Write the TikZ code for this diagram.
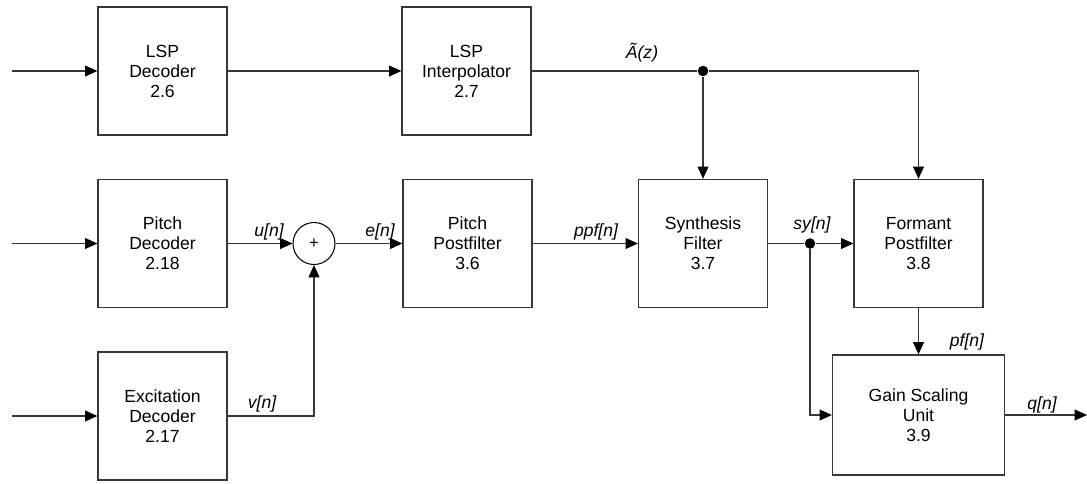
\documentclass[tikz,border=0pt]{standalone}
\usepackage{fontspec}
\setmainfont{Liberation Sans}
\usetikzlibrary{arrows.meta}
\definecolor{wire}{RGB}{55,55,55}

\begin{document}
\begin{tikzpicture}[
  block/.style={draw=wire, line width=0.75pt, minimum width=2.58cm, minimum height=2.56cm, align=center, inner sep=0pt, font=\fontsize{10}{11.4}\selectfont},
  sig/.style={draw=wire, line width=0.6pt, -{Triangle[length=7pt,width=6.2pt,color=black]}},
  wireline/.style={draw=wire, line width=0.6pt},
  lbl/.style={inner sep=0pt, font=\fontsize{10}{11}\selectfont\itshape},
  junction/.style={circle, fill=black, inner sep=0pt, minimum size=6pt}
]
\useasboundingbox (0,0) rectangle (21.74,-9.66);
% blocks
\node[block] (lspdec) at (3.25,-1.42) {LSP\\Decoder\\2.6};
\node[block] (lspint) at (9.33,-1.42) {LSP\\Interpolator\\2.7};
\node[block] (pitchdec) at (3.25,-4.87) {Pitch\\Decoder\\2.18};
\node[block] (excdec) at (3.25,-8.32) {Excitation\\Decoder\\2.17};
\node[block] (pitchpf) at (9.35,-4.87) {Pitch\\Postfilter\\3.6};
\node[block] (synth) at (14.06,-4.87) {Synthesis\\Filter\\3.7};
\node[block] (formant) at (18.37,-4.87) {Formant\\Postfilter\\3.8};
\node[block, minimum width=3.44cm, minimum height=2.4cm] (gain) at (18.37,-8.3) {Gain Scaling\\Unit\\3.9};
\node[draw=black, line width=0.6pt, circle, minimum size=0.84cm, inner sep=0pt, font=\fontsize{9.5}{10}\selectfont] (sum) at (6.28,-4.87) {+};
% inputs and output
\coordinate (in1) at (0.24,-1.42);
\coordinate (in2) at (0.24,-4.87);
\coordinate (in3) at (0.24,-8.32);
\coordinate (qout) at (21.74,-8.3);
\node[junction] (jA) at (14.06,-1.42) {};
\node[junction] (jsy) at (16.2,-4.87) {};
\draw[sig] (in1) -- (lspdec.west);
\draw[sig] (in2) -- (pitchdec.west);
\draw[sig] (in3) -- (excdec.west);
\draw[sig] (lspdec.east) -- (lspint.west);
\draw[wireline] (lspint.east) -- (jA);
\draw[sig] (jA) -- (synth.north);
\draw[sig] (jA) -| (formant.north);
\draw[sig] (pitchdec.east) -- (sum.west);
\draw[sig] (excdec.east) -| (sum.south);
\draw[sig] (sum.east) -- (pitchpf.west);
\draw[sig] (pitchpf.east) -- (synth.west);
\draw[wireline] (synth.east) -- (jsy);
\draw[sig] (jsy) -- (formant.west);
\draw[sig] (jsy) |- (gain.west);
\draw[sig] (formant.south) -- (gain.north);
\draw[sig] (gain.east) -- (qout);
% signal labels
\node[lbl] (lA) at (12.84,-1.06) {Ã(z)};
\node[lbl] (lu) at (5.38,-4.64) {u[n]};
\node[lbl] (le) at (7.6,-4.64) {e[n]};
\node[lbl] (lppf) at (11.92,-4.64) {ppf[n]};
\node[lbl] (lsy) at (16.24,-4.5) {sy[n]};
\node[lbl] (lv) at (5.24,-8.08) {v[n]};
\node[lbl] (lpf) at (19.34,-6.84) {pf[n]};
\node[lbl] (lq) at (20.84,-8.1) {q[n]};
\end{tikzpicture}
\end{document}
